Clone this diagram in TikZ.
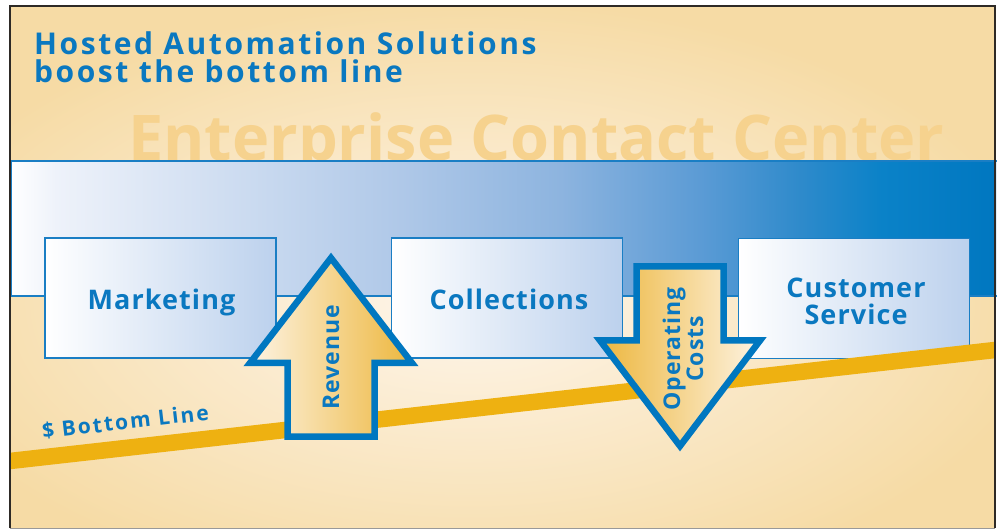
\documentclass[tikz,border=0pt]{standalone}
\usepackage{fontspec}
\setmainfont{Open Sans}
\newfontfamily\headfont{Open Sans}[LetterSpace=4]
\newfontfamily\titlefont{Open Sans}[LetterSpace=8.5]
\newfontfamily\linefont{Open Sans}[LetterSpace=10]
\newfontfamily\watermarkfont{Open Sans}
\usetikzlibrary{calc}

\definecolor{bgin}{HTML}{FEF6EC}
\definecolor{bgout}{HTML}{F6DBA5}
\definecolor{frameline}{HTML}{2E2A26}
\definecolor{textblue}{HTML}{0A78C0}
\definecolor{edgeblue}{HTML}{1A7EC4}
\definecolor{arrowblue}{HTML}{0077C0}
\definecolor{boxblue}{HTML}{BCD1ED}
\definecolor{watermark}{HTML}{F6D28E}
\definecolor{goldline}{HTML}{EEB111}
\definecolor{cream}{HTML}{FDF3E2}
\definecolor{gold}{HTML}{EDB73E}
\definecolor{bandA}{HTML}{EEF2FA}
\definecolor{bandB}{HTML}{AFC8E8}
\definecolor{bandC}{HTML}{8DB4DF}
\definecolor{bandD}{HTML}{5B9BD5}
\definecolor{bandE}{HTML}{2E8ACB}
\definecolor{bandF}{HTML}{0A82C8}
\definecolor{bandG}{HTML}{0077C0}

% left-to-right blend of the banner; the path spans 25bp..75bp
\pgfdeclarehorizontalshading{bandshade}{100bp}{%
  color(0bp)=(white); color(25bp)=(white); color(27.3bp)=(bandA);
  color(44.8bp)=(bandB); color(52.9bp)=(bandC); color(60bp)=(bandD);
  color(65.1bp)=(bandE); color(69.2bp)=(bandF); color(75bp)=(bandG);
  color(100bp)=(bandG)}

\tikzset{
  deptbox/.style={draw=edgeblue, line width=1.3, left color=white,
    right color=boxblue, minimum width=231, minimum height=120,
    inner sep=0},
  deptlabel/.style={text=textblue, inner sep=0, align=center,
    font=\headfont\bfseries\fontsize{27}{27}\selectfont},
  flowarrow/.style={draw=arrowblue, line width=6.5, line join=miter,
    miter limit=10},
  arrowlabel/.style={text=textblue, inner sep=0, align=center, rotate=90,
    font=\headfont\bfseries\fontsize{23}{23}\selectfont},
  headline/.style={anchor=base west, inner sep=0, text=textblue,
    font=\titlefont\bfseries\fontsize{30}{30}\selectfont},
}

\begin{document}
\begin{tikzpicture}[x=1pt,y=-1pt]
\useasboundingbox (0,0) rectangle (999,529);

% warm background with a soft light centre
\coordinate (fnw) at (10,6);
\coordinate (fse) at (995,528);
\begin{scope}
  \clip (fnw) rectangle (fse);
  \fill[bgout] (fnw) rectangle (fse);
  \shade[inner color=bgin, outer color=bgout]
    (470,300) ellipse [x radius=580, y radius=300];
\end{scope}

% headline
\node[headline] (title1) at (34,55) {Hosted Automation Solutions};
\node[headline] (title2) at (34,83) {boost the bottom line};

% large faded caption behind the banner
\node[anchor=base west, inner sep=0, text=watermark,
  font=\watermarkfont\bfseries\fontsize{63}{63}\selectfont]
  (ecc) at (128,161) {Enterprise Contact Center};

% blue banner
\coordinate (bnw) at (11,161);
\coordinate (bse) at (996,296);
\shade[shading=bandshade] (bnw) rectangle (bse);
\draw[edgeblue, line width=1.2] (bse -| 997,0) -- (bse -| bnw) -- (bnw)
  -- (bnw -| 997,0);

% departments
\node[deptbox] (mkt) at (160.5,298) {};
\node[deptbox] (col) at (507,298) {};
\node[deptbox] (cs)  at (854,298.5) {};
\node[deptlabel, anchor=base] (mktlbl) at (161.5,310) {Marketing};
\node[deptlabel, anchor=base] (collbl) at (509,310) {Collections};
\node[deptlabel] (cslbl) at (856,301) {Customer\\Service};

% the bottom line
\coordinate (bl1) at (10,461);
\coordinate (bl2) at (995,350);
\draw[goldline, line width=16.5] (bl1) -- (bl2);
\node[anchor=base west, inner sep=0, rotate=6.6, text=textblue,
  font=\linefont\bfseries\fontsize{21}{21}\selectfont]
  (bltext) at (43,439) {\$ Bottom Line};

% revenue goes up
\coordinate (rtip) at (331,258);
\filldraw[flowarrow, left color=cream, right color=gold]
  (rtip) -- (412,363) -- (374.5,363) -- (374.5,436.7) -- (287.5,436.7)
  -- (287.5,363) -- (250,363) -- cycle;
\node[arrowlabel] (rev) at (331,357) {Revenue};

% operating costs go down
\coordinate (otip) at (680,446);
\filldraw[flowarrow, left color=gold, right color=cream]
  (otip) -- (600,340.5) -- (636.5,340.5) -- (636.5,266.5) -- (723.5,266.5)
  -- (723.5,340.5) -- (760,340.5) -- cycle;
\node[arrowlabel] (opc) at (683,349) {Operating\\Costs};

% outer frame
\draw[frameline, line width=2] (fnw |- fse) -- (fnw) -- (fnw -| fse) -- (fse);
\draw[black!40, line width=1] (fse) -- (fnw |- fse);
\end{tikzpicture}
\end{document}
